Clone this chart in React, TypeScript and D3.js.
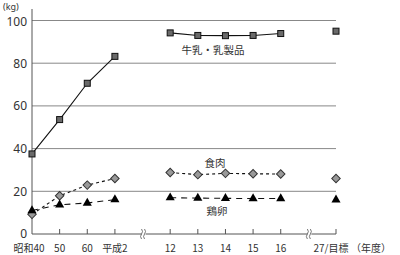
import React from "react";
import * as d3 from "d3";

const categories = ["昭和40", "50", "60", "平成2", "", "12", "13", "14", "15", "16", "", "27/目標"];
const milk = [37.5, 53.6, 70.6, 83.2, null, 94.2, 93.0, 92.9, 93.0, 93.9, null, 95.0];
const meat = [9.2, 17.9, 22.9, 26.0, null, 28.8, 27.8, 28.4, 28.2, 28.1, null, 26.0];
const eggs = [11.0, 13.7, 14.5, 16.1, null, 17.0, 16.8, 16.7, 16.6, 16.6, null, 16.0];
const yTicks = [0, 20, 40, 60, 80, 100];
const breakIdx = [4, 10];

const W = 400, H = 255;
const x0 = 32, x1 = 336;
const FONT = "'Noto Sans CJK JP', 'Noto Sans', sans-serif";
const NUMFONT = "'Noto Sans', sans-serif";

export default function App() {
  const x = d3.scaleLinear().domain([0, categories.length - 1]).range([x0, x1]);
  const y = d3.scaleLinear().domain([0, 100]).range([234, 20.5]);

  const segLine = d3
    .line<[number, number | null]>()
    .defined((d) => d[1] !== null)
    .x((d) => x(d[0]))
    .y((d) => y(d[1] as number));

  const pts = (arr: (number | null)[]) => arr.map((v, i) => [i, v] as [number, number | null]);

  const sq = 6;
  const tri = d3.symbol().type(d3.symbolTriangle).size(36)();
  const grey = "#888";
  const textCol = "#333";

  return (
    <svg width={W} height={H} style={{ position: "absolute", left: 0, top: 0 }}>
      <rect width={W} height={H} fill="#fff" />
      {yTicks.filter((t) => t > 0).map((t) => (
        <line key={t} x1={x0} x2={x1} y1={y(t)} y2={y(t)} stroke={grey} strokeWidth={1} />
      ))}
      <line x1={x0} x2={x0} y1={9} y2={y(0)} stroke="#555" strokeWidth={1} />
      <line x1={x0} x2={x1} y1={y(0)} y2={y(0)} stroke="#555" strokeWidth={1} />
      {categories.map((c, i) =>
        c && i > 0 ? (
          <line key={i} x1={x(i)} x2={x(i)} y1={y(0)} y2={y(0) - 5} stroke="#555" strokeWidth={1} />
        ) : null
      )}
      {breakIdx.map((b) => {
        const bx = x(b) + 1;
        const by = y(0);
        return (
          <g key={b}>
            <rect x={bx - 2} y={by - 5} width={4} height={10} fill="#fff" />
            <path d={`M${bx - 2},${by - 5} q2,2.5 0,5 q-2,2.5 0,5`} fill="none" stroke="#555" strokeWidth={0.8} />
            <path d={`M${bx + 1},${by - 5} q2,2.5 0,5 q-2,2.5 0,5`} fill="none" stroke="#555" strokeWidth={0.8} />
          </g>
        );
      })}
      {yTicks.map((t) => (
        <text key={t} x={27} y={t === 0 ? y(t) + 3.5 : t === 100 ? y(t) + 5 : y(t) + 4.5} textAnchor="end" fontSize={12} fill={textCol} fontFamily={NUMFONT}>
          {t}
        </text>
      ))}
      <text x={3} y={9.5} fontSize={9} fill={textCol} fontFamily={NUMFONT}>(kg)</text>
      {categories.map((c, i) =>
        c ? (
          <text key={i} x={i === 0 ? 29 : i === 11 ? 331 : x(i)} y={252} textAnchor="middle" fontSize={10} fill={textCol} fontFamily={FONT}>
            {c}
          </text>
        ) : null
      )}
      <text x={371} y={252} textAnchor="middle" fontSize={10} fill={textCol} fontFamily={FONT}>（年度）</text>

      <path d={segLine(pts(milk.slice(0, 11)) as any) || ""} fill="none" stroke="#111" strokeWidth={1.1} />
      <path d={segLine(pts(meat.slice(0, 11)) as any) || ""} fill="none" stroke="#111" strokeWidth={1.1} strokeDasharray="3,3" />
      <path d={segLine(pts(eggs.slice(0, 11)) as any) || ""} fill="none" stroke="#111" strokeWidth={1.1} strokeDasharray="6,5" />

      {milk.map((v, i) =>
        v === null ? null : (
          <rect key={"m" + i} x={x(i) - sq / 2} y={y(v) - sq / 2} width={sq} height={sq} fill="#6a6a6a" stroke="#111" strokeWidth={1} />
        )
      )}
      {meat.map((v, i) =>
        v === null ? null : (
          <rect key={"d" + i} x={-3} y={-3} width={6} height={6} fill="#999" stroke="#333" strokeWidth={1}
            transform={`translate(${x(i)},${y(v)}) rotate(45)`} />
        )
      )}
      {eggs.map((v, i) =>
        v === null ? null : (
          <path key={"e" + i} d={tri || ""} fill="#000" transform={`translate(${x(i)},${y(v)})`} />
        )
      )}

      <text x={213} y={54} textAnchor="middle" fontSize={10.5} fill={textCol} fontFamily={FONT}>牛乳・乳製品</text>
      <text x={215} y={167} textAnchor="middle" fontSize={10.5} fill={textCol} fontFamily={FONT}>食肉</text>
      <text x={217} y={215} textAnchor="middle" fontSize={10.5} fill={textCol} fontFamily={FONT}>鶏卵</text>
    </svg>
  );
}
